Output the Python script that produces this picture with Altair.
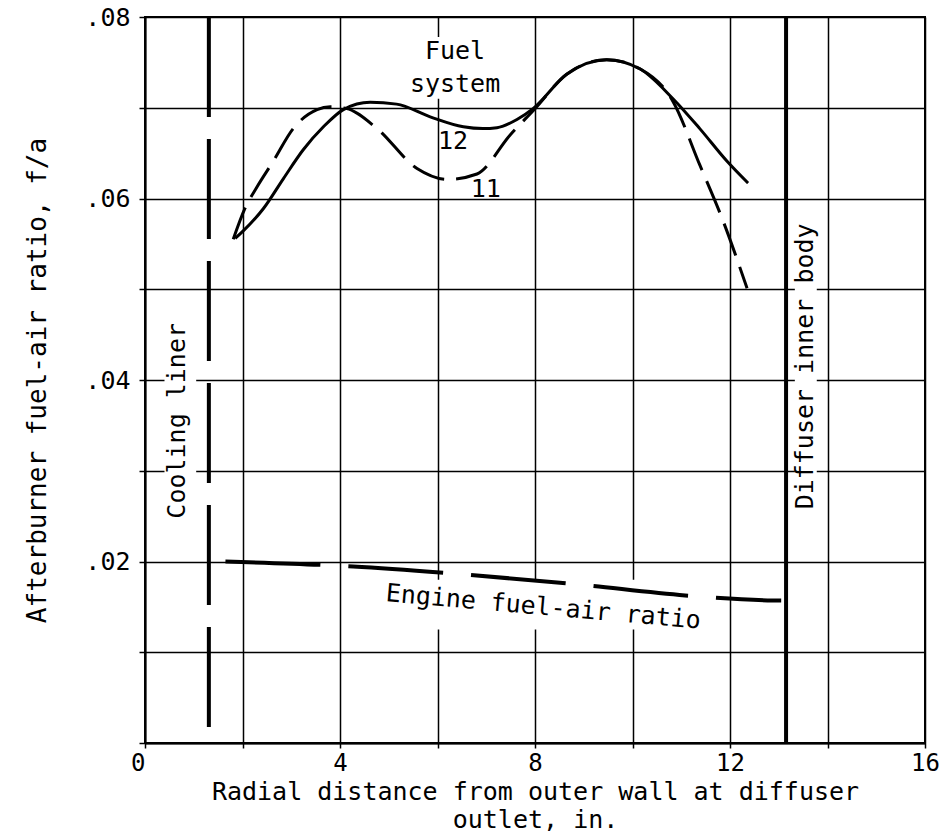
import altair as alt
import pandas as pd

FONT = "DejaVu Sans Mono"

# Fuel system 12 (solid)
x12 = [1.85, 2.01, 2.43, 2.84, 3.25, 3.66, 4.07, 4.62, 5.16, 5.85, 6.53, 6.93, 7.22, 7.63, 7.96, 8.65, 9.47, 10.15, 10.83, 11.38, 11.94, 12.37]
y12 = [0.0556, 0.0564, 0.0589, 0.0622, 0.0654, 0.0679, 0.0698, 0.0706, 0.0704, 0.0690, 0.0679, 0.0677, 0.0678, 0.0687, 0.0699, 0.0737, 0.0753, 0.0743, 0.0710, 0.0677, 0.0641, 0.0617]

# Fuel system 11 (dashed)
x11 = [1.81, 2.05, 2.30, 2.63, 3.04, 3.53, 3.80, 4.14, 4.76, 5.58, 6.20, 6.81, 7.49, 8.00, 8.65, 9.47, 10.15, 10.83, 11.38, 11.86, 12.35]
y11 = [0.0555, 0.0589, 0.0613, 0.0641, 0.0677, 0.0698, 0.0701, 0.0699, 0.0677, 0.0633, 0.0621, 0.0627, 0.0670, 0.0699, 0.0737, 0.0753, 0.0743, 0.0707, 0.0637, 0.0575, 0.0501]

# Engine fuel-air ratio (long dashes)
x_eng = [1.65, 4.27, 6.26, 8.89, 11.08, 12.88, 13.05]
y_eng = [0.0200, 0.01945, 0.0187, 0.01747, 0.01626, 0.01571, 0.0157]

# Boundaries
x_liner = [1.31]
x_inner_body = [13.15]

# Annotations
note_text = ["Fuel", "system", "12", "11"]
note_x = [6.36, 6.36, 6.32, 6.99]
note_y = [0.0762, 0.0726, 0.0663, 0.0610]

box_x = [5.33, 0.40, 13.33, 4.45]
box_x2 = [7.38, 1.05, 13.78, 11.65]
box_y = [0.0778, 0.0431, 0.0572, 0.0180]
box_y2 = [0.0710, 0.0216, 0.0258, 0.0125]

xscale = alt.Scale(domain=[0, 16], nice=False, zero=False)
yscale = alt.Scale(domain=[0, 0.08], nice=False)

x_axis = alt.Axis(
    values=list(range(0, 17, 2)),
    labelExpr="datum.value % 4 == 0 ? datum.value : ''",
    labelAlign=alt.condition("datum.value == 0", alt.value("right"), alt.value("center")),
    title=["Radial distance from outer wall at diffuser", "outlet, in."],
    tickSize=5, labelPadding=3, labelFontSize=24,
    titlePadding=4, titleLineHeight=28, titleFontSize=25,
)
y_axis = alt.Axis(
    values=[0, 0.01, 0.02, 0.03, 0.04, 0.05, 0.06, 0.07, 0.08],
    labelExpr="datum.value == 0 ? '' : (round(datum.value*100) % 2 == 0 ? replace(format(datum.value, '.2f'), '0.', '.') : '')",
    title="Afterburner fuel-air ratio, f/a",
    tickSize=6, labelPadding=9, titlePadding=34,
)

df12 = pd.DataFrame({"x": x12, "y": y12})
df11 = pd.DataFrame({"x": x11, "y": y11})
dfe = pd.DataFrame({"x": x_eng, "y": y_eng})

boxes = alt.Chart(pd.DataFrame({"x": box_x, "x2": box_x2, "y": box_y, "y2": box_y2})).mark_rect(
    color="white"
).encode(
    x=alt.X("x:Q", scale=xscale, axis=x_axis),
    x2="x2:Q",
    y=alt.Y("y:Q", scale=yscale, axis=y_axis),
    y2="y2:Q",
)

liner = alt.Chart(pd.DataFrame({"x": x_liner})).mark_rule(
    color="black", strokeWidth=4, strokeDash=[100, 22]
).encode(x=alt.X("x:Q", scale=xscale))

inner = alt.Chart(pd.DataFrame({"x": x_inner_body})).mark_rule(
    color="black", strokeWidth=4
).encode(x=alt.X("x:Q", scale=xscale))

line12 = alt.Chart(df12).mark_line(color="black", strokeWidth=3, interpolate="monotone").encode(
    x=alt.X("x:Q", scale=xscale), y=alt.Y("y:Q", scale=yscale)
)
line11 = alt.Chart(df11).mark_line(
    color="black", strokeWidth=3, interpolate="monotone", strokeDash=[34, 12]
).encode(x=alt.X("x:Q", scale=xscale), y=alt.Y("y:Q", scale=yscale))
line_eng = alt.Chart(dfe).mark_line(
    color="black", strokeWidth=4, interpolate="monotone", strokeDash=[95, 28]
).encode(x=alt.X("x:Q", scale=xscale), y=alt.Y("y:Q", scale=yscale))

notes = alt.Chart(pd.DataFrame({"x": note_x, "y": note_y, "t": note_text})).mark_text(
    font=FONT, fontSize=25, color="black", align="center", baseline="middle"
).encode(x=alt.X("x:Q", scale=xscale), y=alt.Y("y:Q", scale=yscale), text="t:N")

cooling = alt.Chart(pd.DataFrame({"x": [0.66], "y": [0.0355], "t": ["Cooling liner"]})).mark_text(
    font=FONT, fontSize=25, color="black", angle=270, align="center", baseline="middle"
).encode(x=alt.X("x:Q", scale=xscale), y=alt.Y("y:Q", scale=yscale), text="t:N")

diffuser = alt.Chart(pd.DataFrame({"x": [13.54], "y": [0.0415], "t": ["Diffuser inner body"]})).mark_text(
    font=FONT, fontSize=25, color="black", angle=270, align="center", baseline="middle"
).encode(x=alt.X("x:Q", scale=xscale), y=alt.Y("y:Q", scale=yscale), text="t:N")

engine_lbl = alt.Chart(pd.DataFrame({"x": [8.17], "y": [0.0150], "t": ["Engine fuel-air ratio"]})).mark_text(
    font=FONT, fontSize=25, color="black", angle=5, align="center", baseline="middle"
).encode(x=alt.X("x:Q", scale=xscale), y=alt.Y("y:Q", scale=yscale), text="t:N")

chart = alt.layer(
    boxes, liner, inner, line12, line11, line_eng, notes, cooling, diffuser, engine_lbl
).properties(
    width=780, height=726,
    autosize=alt.AutoSizeParams(type="none"),
    padding={"left": 145, "top": 17, "right": 15, "bottom": 96},
    background="white",
).configure_view(
    stroke="black", strokeWidth=2
).configure_axis(
    grid=True, gridColor="black", gridWidth=1.5, gridOpacity=1,
    domainColor="black", domainWidth=2, tickColor="black", tickWidth=1.5,
    labelFont=FONT, labelFontSize=25, labelColor="black",
    titleFont=FONT, titleFontSize=26, titleFontWeight="normal", titleColor="black",
)

chart.save("out.html", embed_options={"renderer": "svg", "actions": False})
